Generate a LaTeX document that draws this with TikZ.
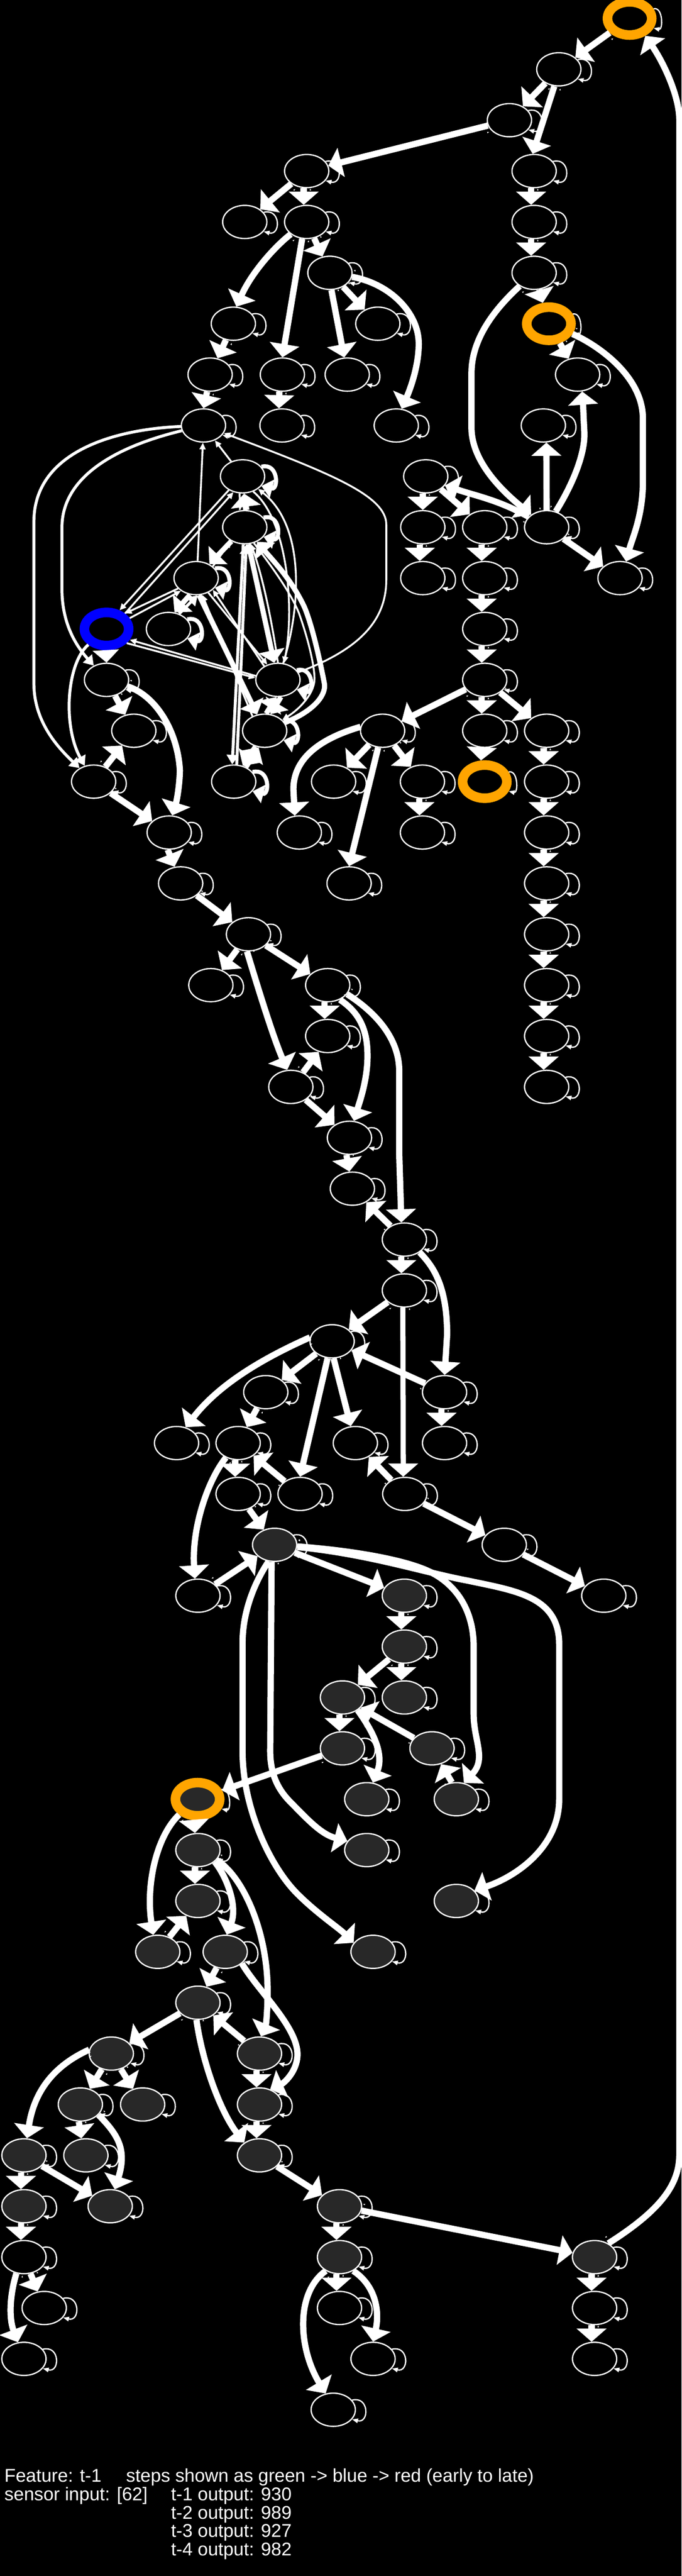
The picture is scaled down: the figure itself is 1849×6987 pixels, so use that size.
\documentclass[tikz,border=0pt]{standalone}
\usepackage{fontspec}
\setmainfont{Liberation Sans}
\usetikzlibrary{shapes.geometric, arrows.meta, decorations.markings}
\definecolor{ringorange}{HTML}{FFA500}
\definecolor{spent}{HTML}{282828}
\begin{document}
\begin{tikzpicture}[
  x=1pt, y=-1pt,
  unit/.style={ellipse, draw=white, line width=3.5pt, fill=black, minimum width=120pt, minimum height=90pt, inner sep=0pt},
  used/.style={unit, fill=spent},
  ring/.style={unit, draw=ringorange, line width=26pt},
  usedring/.style={ring, fill=spent},
  seed/.style={unit, draw=blue, line width=26pt},
  tailmark/.style={postaction={decorate, decoration={markings, mark=at position 1pt with {\fill[white] (0pt,18pt) -- (5pt,16pt) -- (5pt,20pt) -- cycle;}}}},
  flow/.style={-{Triangle[length=36pt,width=80pt]}, line width=17pt, white, tailmark},
  heavyflow/.style={-{Triangle[length=34pt,width=70pt]}, line width=14pt, white},
  midflow/.style={-{Triangle[length=26pt,width=32pt]}, line width=8pt, white},
  thinflow/.style={-{Triangle[length=18pt,width=16pt]}, line width=5pt, white},
  selfloop/.style={-{Triangle[length=16pt,width=12pt]}, line width=3.5pt, white},
  heavyloop/.style={-{Triangle[length=30pt,width=50pt]}, line width=11pt, white},
  caption/.style={anchor=base west, white, inner sep=0pt, font=\fontsize{50pt}{50pt}\selectfont}
  ]

  \fill[black] (0,0) rectangle (1849,6987);
  \useasboundingbox (0,0) rectangle (1849,6987);

  % Nodes
  \node (n0a) [ring] at (1708,50) {};
  \node (n1a) [unit] at (1516,188) {};
  \node (n2a) [unit] at (1382,326) {};
  \node (n3a) [unit] at (832,464) {};
  \node (n3b) [unit] at (1449,464) {};
  \node (n4a) [unit] at (664,602) {};
  \node (n4b) [unit] at (832,602) {};
  \node (n4c) [unit] at (1449,602) {};
  \node (n5a) [unit] at (895,740) {};
  \node (n5b) [unit] at (1449,740) {};
  \node (n6a) [unit] at (633,878) {};
  \node (n6b) [unit] at (1025,878) {};
  \node (n6c) [ring] at (1489,878) {};
  \node (n7a) [unit] at (570,1016) {};
  \node (n7b) [unit] at (766,1016) {};
  \node (n7c) [unit] at (942,1016) {};
  \node (n7d) [unit] at (1567,1016) {};
  \node (n8a) [unit] at (552,1154) {};
  \node (n8b) [unit] at (765,1154) {};
  \node (n8c) [unit] at (1075,1154) {};
  \node (n8d) [unit] at (1474,1154) {};
  \node (n9a) [unit] at (658,1292) {};
  \node (n9b) [unit] at (1155,1292) {};
  \node (n10a) [unit] at (664,1430) {};
  \node (n10b) [unit] at (1147,1430) {};
  \node (n10c) [unit] at (1315,1430) {};
  \node (n10d) [unit] at (1483,1430) {};
  \node (n11a) [unit] at (532,1568) {};
  \node (n11b) [unit] at (1147,1568) {};
  \node (n11c) [unit] at (1315,1568) {};
  \node (n11d) [unit] at (1682,1568) {};
  \node (n12a) [seed] at (289,1706) {};
  \node (n12b) [unit] at (457,1706) {};
  \node (n12c) [unit] at (1315,1706) {};
  \node (n13a) [unit] at (289,1844) {};
  \node (n13b) [unit] at (754,1844) {};
  \node (n13c) [unit] at (1315,1844) {};
  \node (n14a) [unit] at (363,1982) {};
  \node (n14b) [unit] at (718,1982) {};
  \node (n14c) [unit] at (1038,1982) {};
  \node (n14d) [unit] at (1315,1982) {};
  \node (n14e) [unit] at (1483,1982) {};
  \node (n15a) [unit] at (254,2120) {};
  \node (n15b) [unit] at (634,2120) {};
  \node (n15c) [unit] at (905,2120) {};
  \node (n15d) [unit] at (1146,2120) {};
  \node (n15e) [ring] at (1315,2120) {};
  \node (n15f) [unit] at (1483,2120) {};
  \node (n16a) [unit] at (459,2258) {};
  \node (n16b) [unit] at (812,2258) {};
  \node (n16c) [unit] at (1146,2258) {};
  \node (n16d) [unit] at (1483,2258) {};
  \node (n17a) [unit] at (490,2396) {};
  \node (n17b) [unit] at (947,2396) {};
  \node (n17c) [unit] at (1483,2396) {};
  \node (n18a) [unit] at (674,2534) {};
  \node (n18b) [unit] at (1483,2534) {};
  \node (n19a) [unit] at (572,2672) {};
  \node (n19b) [unit] at (889,2672) {};
  \node (n19c) [unit] at (1483,2672) {};
  \node (n20a) [unit] at (889,2810) {};
  \node (n20b) [unit] at (1483,2810) {};
  \node (n21a) [unit] at (789,2948) {};
  \node (n21b) [unit] at (1483,2948) {};
  \node (n22a) [unit] at (948,3086) {};
  \node (n23a) [unit] at (956,3224) {};
  \node (n24a) [unit] at (1097,3362) {};
  \node (n25a) [unit] at (1097,3500) {};
  \node (n26a) [unit] at (901,3638) {};
  \node (n27a) [unit] at (721,3776) {};
  \node (n27b) [unit] at (1206,3776) {};
  \node (n28a) [unit] at (479,3914) {};
  \node (n28b) [unit] at (646,3914) {};
  \node (n28c) [unit] at (964,3914) {};
  \node (n28d) [unit] at (1206,3914) {};
  \node (n29a) [unit] at (646,4052) {};
  \node (n29b) [unit] at (814,4052) {};
  \node (n29c) [unit] at (1098,4052) {};
  \node (n30a) [used] at (745,4190) {};
  \node (n30b) [unit] at (1368,4190) {};
  \node (n31a) [unit] at (537,4328) {};
  \node (n31b) [used] at (1097,4328) {};
  \node (n31c) [unit] at (1638,4328) {};
  \node (n32a) [used] at (1097,4466) {};
  \node (n33a) [used] at (929,4604) {};
  \node (n33b) [used] at (1097,4604) {};
  \node (n34a) [used] at (929,4742) {};
  \node (n34b) [used] at (1172,4742) {};
  \node (n35a) [usedring] at (536,4880) {};
  \node (n35b) [used] at (995,4880) {};
  \node (n35c) [used] at (1238,4880) {};
  \node (n36a) [used] at (537,5018) {};
  \node (n36b) [used] at (995,5018) {};
  \node (n37a) [used] at (537,5156) {};
  \node (n37b) [used] at (1238,5156) {};
  \node (n38a) [used] at (428,5294) {};
  \node (n38b) [used] at (611,5294) {};
  \node (n38c) [used] at (1012,5294) {};
  \node (n39a) [used] at (537,5432) {};
  \node (n40a) [used] at (302,5570) {};
  \node (n40b) [used] at (704,5570) {};
  \node (n41a) [used] at (218,5708) {};
  \node (n41b) [used] at (387,5708) {};
  \node (n41c) [used] at (704,5708) {};
  \node (n42a) [used] at (65,5846) {};
  \node (n42b) [used] at (233,5846) {};
  \node (n42c) [used] at (704,5846) {};
  \node (n43a) [used] at (65,5984) {};
  \node (n43b) [used] at (299,5984) {};
  \node (n43c) [used] at (921,5984) {};
  \node (n44a) [unit] at (65,6122) {};
  \node (n44b) [used] at (921,6122) {};
  \node (n44c) [used] at (1613,6122) {};
  \node (n45a) [unit] at (120,6260) {};
  \node (n45b) [unit] at (921,6260) {};
  \node (n45c) [unit] at (1613,6260) {};
  \node (n46a) [unit] at (65,6398) {};
  \node (n46b) [unit] at (1012,6398) {};
  \node (n46c) [unit] at (1613,6398) {};
  \node (n47a) [unit] at (904,6536) {};

  % Self loops
  \foreach \n in {n1a,n2a,n3a,n3b,n4a,n4b,n4c,n5a,n5b,n6a,n6b,n7a,n7b,n7c,n7d,n8a,n8b,n8c,n8d,n9b,n10b,n10c,n10d,n11b,n11c,n11d,n12c,n13a,n13c,n14a,n14c,n14d,n14e,n15a,n15c,n15d,n15f,n16a,n16b,n16c,n16d,n17a,n17b,n17c,n18a,n18b,n19a,n19b,n19c,n20a,n20b,n21a,n21b,n22a,n23a,n24a,n25a,n26a,n27a,n27b,n28a,n28b,n28c,n28d,n29a,n29b,n29c,n30a,n30b,n31a,n31b,n31c,n32a,n33a,n33b,n34a,n34b,n35b,n35c,n36a,n36b,n37a,n37b,n38a,n38b,n38c,n39a,n40a,n40b,n41a,n41b,n41c,n42a,n42b,n42c,n43a,n43b,n43c,n44a,n44b,n44c,n45a,n45b,n45c,n46a,n46b,n46c,n47a}
    \draw[selfloop] (\n.27) .. controls +(47,-12) and +(47,12) .. (\n.-27);
  \foreach \n in {n0a,n6c,n15e,n35a}
    \draw[selfloop] (\n.22) .. controls +(26,-6) and +(26,6) .. (\n.-22);
  \foreach \n in {n9a,n10a,n11a,n12b,n13b,n14b,n15b}
    \draw[heavyloop] (\n.27) .. controls +(47,-12) and +(47,12) .. (\n.-27);

  % Connections, top block
  \draw[flow] (n0a) -- (n1a);
  \draw[flow] (n1a) -- (n2a);
  \draw[flow] (n1a.-105) -- (n3b.95);
  \draw[flow] (n2a) -- (n3a);
  \draw[flow] (n3a) -- (n4a);
  \draw[flow] (n3a.-100) -- (n4b.100);
  \draw[flow] (n3b.-100) -- (n4c.100);
  \draw[flow] (n4c.-100) -- (n5b.100);
  \draw[flow] (n4b) -- (n5a);
  \draw[flow] (n4b) .. controls (750,665) and (685,735) .. (n6a.80);
  \draw[flow] (n4b.-105) -- (n7b.north);
  \draw[flow] (n5a) -- (n6b);
  \draw[flow] (n5a.-85) -- (n7c.100);
  \draw[flow] (n5a) .. controls (1060,770) and (1136,850) .. (1136,932) .. controls (1136,990) and (1115,1050) .. (n8c.72);
  \draw[flow] (n6a) -- (n7a);
  \draw[flow] (n7a.-100) -- (n8a.north);
  \draw[flow] (n7b.-100) -- (n8b.100);
  \draw[flow] (n5b) -- (n6c);
  \draw[flow] (n5b) .. controls (1340,840) and (1279,920) .. (1279,1013) -- (1279,1160) .. controls (1279,1250) and (1360,1330) .. (n10d);
  \draw[flow] (n6c) -- (n7d);
  \draw[flow] (n6c) .. controls (1620,935) and (1744,1020) .. (1744,1135) -- (1744,1307) .. controls (1744,1400) and (1715,1460) .. (n11d.70);
  \draw[flow] (n10d.north) -- (n8d.-80);
  \draw[flow] (n10d.60) .. controls (1550,1320) and (1590,1230) .. (1585,1167) .. controls (1583,1130) and (1582,1100) .. (n7d.-75);
  \draw[flow] (n10d) -- (n11d);
  \draw[flow] (n10d.150) .. controls (1350,1355) and (1290,1345) .. (n9b.-25);
  \draw[flow] (n9b) -- (n10c);
  \draw[flow] (n9b.-100) -- (n10b.90);
  \draw[flow] (n10b.-100) -- (n11b.100);
  \draw[flow] (n10c.-100) -- (n11c.100);
  \draw[flow] (n11c.-100) -- (n12c.100);
  \draw[flow] (n12c.-100) -- (n13c.100);
  \draw[flow] (n13c.-100) -- (n14d.100);
  \draw[flow] (n14d.-100) -- (n15e.100);
  \draw[flow] (n13c) -- (n14c);
  \draw[flow] (n13c) -- (n14e);
  \draw[flow] (n14e.-100) -- (n15f.100);
  \draw[flow] (n15f.-100) -- (n16d.100);
  \draw[flow] (n16d.-100) -- (n17c.100);
  \draw[flow] (n17c.-100) -- (n18b.100);
  \draw[flow] (n18b.-100) -- (n19c.100);
  \draw[flow] (n19c.-100) -- (n20b.100);
  \draw[flow] (n20b.-100) -- (n21b.100);
  \draw[flow] (n14c) -- (n15c);
  \draw[flow] (n14c) -- (n15d);
  \draw[flow] (n14c.170) .. controls (880,2000) and (796,2050) .. (796,2141) -- (n16b.105);
  \draw[flow] (n14c.-105) -- (n17b.north);
  \draw[flow] (n15d.-100) -- (n16c.100);

  % Connections, dense block
  \draw[thinflow] (n9a) -- (n8a);
  \draw[thinflow] (n11a.85) -- (n8a.-92);
  \draw[thinflow] (n13b) .. controls (980,1760) and (1048,1680) .. (1048,1572) -- (1048,1423) .. controls (1048,1345) and (900,1285) .. (n8a);
  \draw[midflow] (n8a) .. controls (300,1165) and (92,1230) .. (92,1415) -- (92,1854) .. controls (92,1960) and (160,2030) .. (n15a);
  \draw[midflow] (n8a) .. controls (300,1215) and (168,1300) .. (168,1431) -- (168,1597) .. controls (168,1690) and (205,1750) .. (n13a);
  \draw[thinflow] (n13b) .. controls (815,1650) and (830,1430) .. (n9a);
  \draw[thinflow] (n9a.-55) .. controls (780,1410) and (800,1650) .. (n13b.70);
  \draw[flow, tailmark/.style={}] (n10a.85) -- (n9a.-85);
  \draw[thinflow] (n9a.-100) -- (n10a.105);
  \draw[heavyflow] (n10a) -- (n13b);
  \draw[thinflow] (n13b.north) .. controls (740,1700) and (715,1570) .. (n10a.-70);
  \draw[heavyflow] (n14b) .. controls (860,1925) and (885,1880) .. (880,1854) .. controls (860,1750) and (840,1680) .. (826,1647) .. controls (790,1570) and (740,1520) .. (n10a);
  \draw[thinflow] (n10a.-60) .. controls (740,1540) and (790,1610) .. (811,1663) .. controls (835,1730) and (855,1810) .. (853,1846) .. controls (850,1885) and (810,1925) .. (n14b);
  \draw[midflow] (n10a.-95) -- (n15b.95);
  \draw[midflow] (n15b.80) -- (n10a.-85);
  \draw[heavyflow] (n10a) -- (n11a);
  \draw[thinflow] (n11a.35) -- (n10a.-135);
  \draw[thinflow] (n11a.-150) -- (n12a.40);
  \draw[thinflow] (n12a.25) -- (n11a.-140);
  \draw[heavyflow] (n11a.-110) -- (n12b.70);
  \draw[midflow] (n12b.55) -- (n11a.-85);
  \draw[heavyflow] (n11a.-80) -- (n14b.115);
  \draw[thinflow] (n14b.130) -- (n11a.-70);
  \draw[thinflow] (n11a.-50) -- (n13b.125);
  \draw[thinflow] (n13b.135) -- (n11a.-35);
  \draw[thinflow] (n13b.170) -- (n12a.-25);
  \draw[thinflow] (n12a.-35) -- (n13b.175);
  \draw[thinflow] (n9a.-135) -- (n12a.55);
  \draw[thinflow] (n12a.40) -- (n9a.-120);
  \draw[heavyflow] (n13b.-80) -- (n14b.70);
  \draw[heavyflow] (n14b.85) -- (n13b.-95);
  \draw[heavyflow] (n14b.-120) -- (n15b.60);
  \draw[heavyflow] (n15b.50) -- (n14b.-110);
  \draw[heavyflow] (n12a.-92) -- (n13a.90);
  \draw[midflow] (n12a) .. controls (180,1800) and (170,1970) .. (n15a);
  \draw[flow] (n13a) -- (n14a);
  \draw[flow] (n15a) -- (n14a);
  \draw[flow] (n15a) -- (n16a);
  \draw[flow] (n13a) .. controls (420,1885) and (482,1980) .. (488,2090) .. controls (487,2130) and (480,2170) .. (n16a.80);

  % Connections, middle block
  \draw[flow] (n16a.-95) -- (n17a.110);
  \draw[flow] (n17a) -- (n18a);
  \draw[flow] (n18a) -- (n19a);
  \draw[flow] (n18a) -- (n19b);
  \draw[flow] (n18a.-95) .. controls (700,2680) and (740,2810) .. (n21a.102);
  \draw[flow] (n19b.-100) -- (n20a.100);
  \draw[flow] (n21a.50) -- (n20a.-120);
  \draw[flow] (n19b.-50) .. controls (980,2750) and (997,2800) .. (997,2864) .. controls (997,2930) and (975,2990) .. (n22a.75);
  \draw[flow] (n19b.-25) .. controls (1010,2740) and (1083,2810) .. (1083,2905) -- (1083,3130) -- (n24a.100);
  \draw[flow] (n21a) -- (n22a);
  \draw[flow] (n22a.-100) -- (n23a.100);
  \draw[flow] (n24a) -- (n23a);
  \draw[flow] (n24a.-100) -- (n25a.100);
  \draw[flow] (n24a.-40) .. controls (1170,3430) and (1213,3480) .. (1213,3620) -- (n27b.north);
  \draw[flow] (n25a) -- (n26a);
  \draw[flow, line width=14pt] (n25a.-95) -- (n29c.95);
  \draw[flow] (n26a.170) .. controls (700,3690) and (590,3760) .. (n28a.60);
  \draw[flow] (n26a) -- (n27a);
  \draw[flow] (n26a.-105) -- (n29b.north);
  \draw[flow] (n26a.-85) -- (n28c.105);
  \draw[flow] (n27b) -- (n26a);
  \draw[flow] (n27b.-100) -- (n28d.100);
  \draw[flow] (n27a) -- (n28b);
  \draw[flow] (n28b.-100) -- (n29a.100);
  \draw[flow] (n29b) -- (n28b);
  \draw[flow] (n29c) -- (n28c);
  \draw[flow] (n29a) -- (n30a);
  \draw[flow] (n29c) -- (n30b);
  \draw[flow] (n28b.-130) .. controls (560,4020) and (520,4150) .. (n31a.100);
  \draw[flow] (n31a) -- (n30a);
  \draw[flow] (n30a) -- (n31b);
  \draw[flow] (n30b) -- (n31c);
  \draw[flow] (n31b.-100) -- (n32a.100);
  \draw[flow] (n32a.-100) -- (n33b.100);
  \draw[flow] (n32a) -- (n33a);
  \draw[flow] (n33a.-100) -- (n34a.100);
  \draw[flow] (n30a) .. controls (950,4205) and (1100,4230) .. (1168,4264) .. controls (1240,4300) and (1285,4370) .. (1285,4467) -- (1285,4650) .. controls (1285,4720) and (1320,4770) .. (n35c.65);
  \draw[flow] (n30a) .. controls (1000,4215) and (1150,4265) .. (1268,4287) .. controls (1400,4315) and (1517,4330) .. (1517,4460) -- (1517,4880) .. controls (1517,5010) and (1400,5090) .. (n37b.30);
  \draw[flow] (n30a.-100) -- (733,4749) .. controls (733,4820) and (760,4860) .. (790,4890) .. controls (830,4930) and (870,4975) .. (n36b.155);
  \draw[flow] (n30a.-110) .. controls (685,4300) and (658,4380) .. (658,4456) -- (658,4749) .. controls (658,4900) and (730,5060) .. (807,5137) .. controls (860,5190) and (920,5230) .. (n38c.155);
  \draw[flow] (n33a.-40) .. controls (1000,4680) and (1045,4750) .. (n35b.70);
  \draw[flow] (n34b) -- (n33a);
  \draw[flow] (n35c.105) -- (n34b.-60);
  \draw[flow] (n34a) -- (n35a);

  % Connections, lower block
  \draw[flow] (n35a.-100) -- (n36a.100);
  \draw[flow] (n35a.-140) .. controls (425,4980) and (395,5110) .. (n38a.105);
  \draw[flow] (n36a.-100) -- (n37a.100);
  \draw[flow] (n36a.-35) .. controls (615,5090) and (645,5170) .. (n38b.85);
  \draw[flow] (n36a.-28) .. controls (660,5090) and (726,5240) .. (726,5400) .. controls (726,5450) and (722,5490) .. (n40b.85);
  \draw[flow] (n38a) -- (n37a);
  \draw[flow] (n38b) -- (n39a);
  \draw[flow] (n38b.-35) .. controls (700,5400) and (810,5500) .. (807,5575) .. controls (805,5620) and (770,5650) .. (n41c.55);
  \draw[flow] (n39a) -- (n40a);
  \draw[flow] (n40b) -- (n39a);
  \draw[flow] (n40b.-100) -- (n41c.100);
  \draw[flow] (n41c.-100) -- (n42c.100);
  \draw[flow] (n39a.-95) .. controls (550,5600) and (600,5730) .. (n42c.140);
  \draw[flow] (n40a) -- (n41a);
  \draw[flow] (n40a) -- (n41b);
  \draw[flow] (n40a.170) .. controls (130,5610) and (90,5690) .. (n42a.80);
  \draw[flow] (n41a.-95) -- (n42b.105);
  \draw[flow] (n41a.-30) .. controls (320,5790) and (345,5830) .. (n43b.75);
  \draw[flow] (n42a.-100) -- (n43a.100);
  \draw[flow] (n42a) -- (n43b);
  \draw[flow] (n43a.-100) -- (n44a.100);
  \draw[flow] (n44a) -- (n45a);
  \draw[flow] (n44a.-115) .. controls (25,6230) and (25,6290) .. (n46a.110);
  \draw[flow] (n42c) -- (n43c);
  \draw[flow] (n43c.-100) -- (n44b.100);
  \draw[flow] (n43c) -- (n44c);
  \draw[flow] (n44b.-100) -- (n45b.100);
  \draw[flow] (n44b.-45) .. controls (1020,6200) and (1030,6270) .. (n46b.north);
  \draw[flow] (n44b.-135) .. controls (800,6220) and (810,6370) .. (n47a.115);
  \draw[flow] (n44c.-100) -- (n45c.100);
  \draw[flow] (n45c.-100) -- (n46c.100);
  \draw[flow] (n44c.45) .. controls (1800,5990) and (1843,5920) .. (1843,5843) -- (1843,326) .. controls (1843,260) and (1800,170) .. (n0a.-48);

  % Caption
  \node (featurelabel) [caption] at (12,6732) {Feature: t-1};
  \node (stepslabel) [caption] at (342,6732) {steps shown as green -> blue -> red (early to late)};
  \node (sensorlabel) [caption] at (12,6782) {sensor input: [62]};
  \node (outputa) [caption] at (464,6782) {t-1 output: 930};
  \node (outputb) [caption] at (464,6832) {t-2 output: 989};
  \node (outputc) [caption] at (464,6882) {t-3 output: 927};
  \node (outputd) [caption] at (464,6932) {t-4 output: 982};

\end{tikzpicture}
\end{document}
